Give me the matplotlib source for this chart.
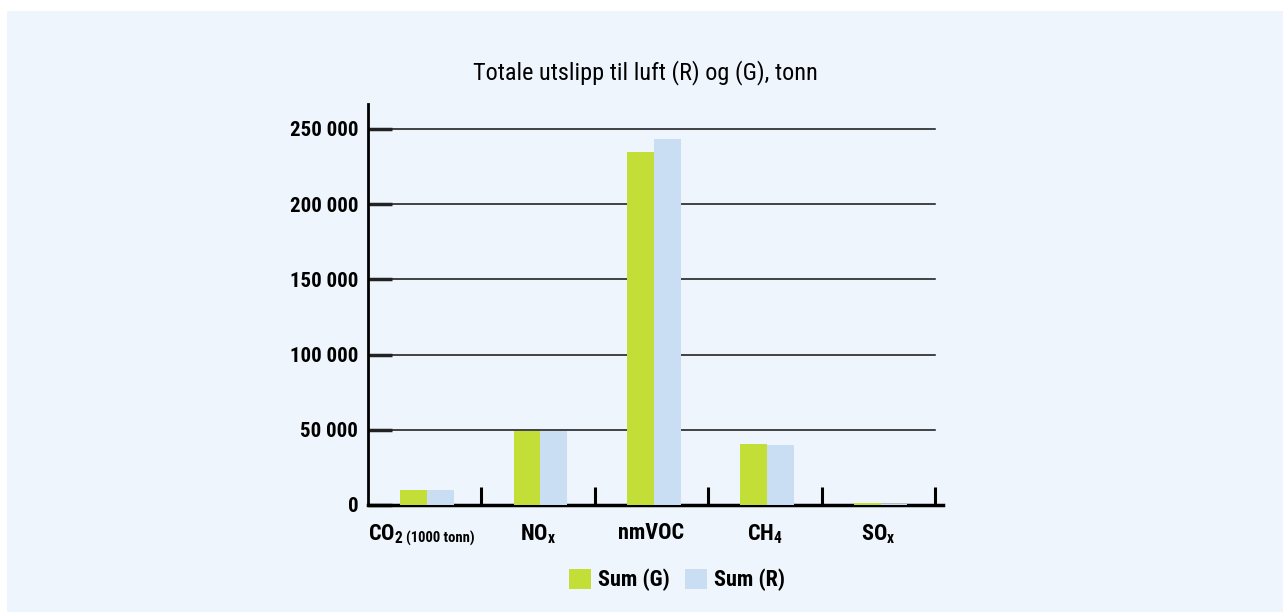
import numpy as np
import matplotlib.pyplot as plt
from matplotlib.patches import Rectangle

plt.rcParams['font.family'] = ['Roboto Condensed', 'Liberation Sans', 'DejaVu Sans']
plt.rcParams['mathtext.fontset'] = 'custom'
plt.rcParams['mathtext.rm'] = 'Roboto Condensed:bold'
plt.rcParams['mathtext.bf'] = 'Roboto Condensed:bold'
plt.rcParams['mathtext.it'] = 'Roboto Condensed:bold'

categories = [r'$\mathbf{CO_2}$', r'$\mathbf{NO_x}$', 'nmVOC',
              r'$\mathbf{CH_4}$', r'$\mathbf{SO_x}$']
co2_unit = '(1000 tonn)'
sum_g = [10000, 49300, 234500, 40700, 1500]
sum_r = [9800, 49000, 243300, 40000, 800]
yticks = [0, 50000, 100000, 150000, 200000, 250000]
ytick_labels = ['0', '50 000', '100 000', '150 000', '200 000', '250 000']

bg = '#eef5fc'
green = '#c3de36'
blue = '#c9def2'

fig = plt.figure(figsize=(12.83, 6.12), dpi=100, facecolor='white')
fig.patches.append(Rectangle((7 / 1283, 0), 1, 1 - 11 / 612, transform=fig.transFigure,
                             facecolor=bg, edgecolor='none', zorder=-10))
ax = fig.add_axes([368 / 1283, 1 - 505 / 612, (943 - 368) / 1283, (505 - 104) / 612])
ax.set_facecolor(bg)

x = np.arange(len(categories))
w = 0.236
shift = 0.02
ax.bar(x + shift - w / 2, sum_g, w, color=green, label='Sum (G)', zorder=3)
ax.bar(x + shift + w / 2, sum_r, w, color=blue, label='Sum (R)', zorder=3)

ax.set_xlim(-0.5, 4.57)
ax.set_ylim(0, 266500)

# horizontal grid lines stop at the last category boundary
for v in yticks[1:]:
    ax.plot([-0.5, 4.5], [v, v], color='#111111', lw=1.1, zorder=1)

ax.set_yticks(yticks)
ax.set_yticklabels(ytick_labels, fontsize=15, fontweight='bold')
ax.tick_params(axis='y', direction='in', length=17, width=2.5, pad=-2, color='#222222')
for lab in ax.get_yticklabels():
    lab.set_x(-0.022)

ax.set_xticks(np.arange(0.5, 5, 1.0))
ax.set_xticklabels([])
ax.tick_params(axis='x', direction='in', length=13, width=2.2, color='black')

for i, lab in enumerate(categories):
    if i == 0:
        t = ax.text(-0.5, -11500, lab, ha='left', va='top', fontsize=16,
                    fontweight='bold')
        ax.annotate(co2_unit, xy=(1, 0), xycoords=t, xytext=(2, 0),
                    textcoords='offset points', ha='left', va='bottom',
                    fontsize=10.5, fontweight='bold')
    else:
        ax.text(i, -11500, lab, ha='center', va='top', fontsize=16,
                fontweight='bold')

for s in ['top', 'right']:
    ax.spines[s].set_visible(False)
ax.spines['left'].set_linewidth(2)
ax.spines['bottom'].set_linewidth(2.5)

fig.text(645 / 1283, 1 - 73 / 612, 'Totale utslipp til luft (R) og (G), tonn',
         ha='center', va='center', fontsize=17.5)

fig.legend(loc='center', bbox_to_anchor=(677 / 1283, 1 - 580 / 612), ncol=2,
           frameon=False, prop={'weight': 'bold', 'size': 16},
           handlelength=1.0, handleheight=1.0, handletextpad=0.3, columnspacing=0.7)

fig.savefig('out.png', dpi=100, facecolor=fig.get_facecolor())
